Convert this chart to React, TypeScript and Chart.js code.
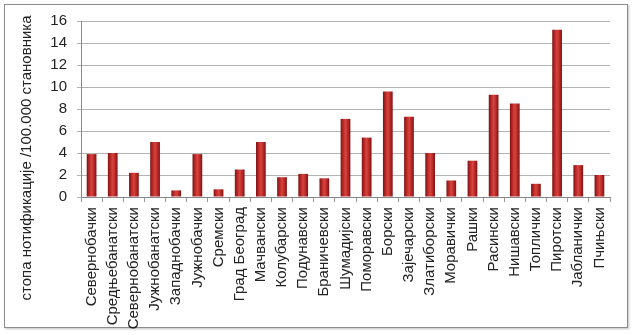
import React, { useEffect, useRef } from "react";
import { Chart, registerables } from "chart.js";

Chart.register(...registerables);

const categories = [
  "Севернобачки", "Средњебанатски", "Севернобанатски", "Јужнобанатски", "Западнобачки",
  "Јужнобачки", "Сремски", "Град Београд", "Мачвански", "Колубарски", "Подунавски",
  "Браничевски", "Шумадијски", "Поморавски", "Борски", "Зајечарски", "Златиборски",
  "Моравички", "Рашки", "Расински", "Нишавски", "Топлички", "Пиротски", "Јабланички", "Пчињски",
];
const rates = [
  3.9, 4.0, 2.2, 5.0, 0.6, 3.9, 0.7, 2.5, 5.0, 1.8, 2.1,
  1.7, 7.1, 5.4, 9.6, 7.3, 4.0, 1.5, 3.3, 9.3, 8.5, 1.2, 15.2, 2.9, 2.0,
];
const yTicks = [0, 2, 4, 6, 8, 10, 12, 14, 16];
const yTitle = "стопа нотификације /100.000 становника";

const FONT = "'Liberation Sans', Arial, sans-serif";

const titlePlugin = {
  id: "sideTitle",
  afterDraw(chart: any) {
    const ctx = chart.ctx;
    ctx.save();
    ctx.translate(27, 158);
    ctx.rotate(-Math.PI / 2);
    ctx.font = `15px ${FONT}`;
    ctx.fillStyle = "#222";
    ctx.textAlign = "center";
    ctx.textBaseline = "middle";
    ctx.fillText(yTitle, 0, 0);
    ctx.restore();
  },
};

export default function App() {
  const ref = useRef<HTMLCanvasElement>(null);
  useEffect(() => {
    if (!ref.current) return;
    const chart = new Chart(ref.current, {
      type: "bar",
      data: {
        labels: categories,
        datasets: [
          {
            data: rates,
            barPercentage: 0.46,
            categoryPercentage: 1,
            borderWidth: 0,
            backgroundColor: (c: any) => {
              const ch = c.chart;
              const xs = ch.scales && ch.scales.x;
              if (!xs || c.dataIndex === undefined) return "#c0302e";
              const cx = xs.getPixelForValue(c.dataIndex);
              if (!isFinite(cx)) return "#c0302e";
              const half = 5;
              const g = ch.ctx.createLinearGradient(cx - half, 0, cx + half, 0);
              g.addColorStop(0, "#7a1010");
              g.addColorStop(0.25, "#b52826");
              g.addColorStop(0.5, "#d8443f");
              g.addColorStop(0.75, "#b52826");
              g.addColorStop(1, "#7a1010");
              return g;
            },
          },
        ],
      },
      options: {
        responsive: false,
        animation: false,
        layout: { padding: { left: 0, right: 22, top: 21, bottom: 0 } },
        plugins: { legend: { display: false }, tooltip: { enabled: false } },
        scales: {
          x: {
            grid: { drawOnChartArea: false, drawTicks: true, tickLength: 5, color: "#999" },
            border: { color: "#888" },
            ticks: {
              autoSkip: false,
              maxRotation: 90,
              minRotation: 90,
              padding: 5,
              color: "#222",
              font: { family: FONT, size: 15 },
            },
            afterFit: (s: any) => {
              s.height = 138;
            },
          },
          y: {
            min: 0,
            max: 16,
            afterBuildTicks: (s: any) => {
              s.ticks = yTicks.map((v) => ({ value: v }));
            },
            grid: { color: "#b3b3b3", tickLength: 4 },
            border: { color: "#888" },
            ticks: {
              padding: 10,
              color: "#222",
              font: { family: FONT, size: 15 },
            },
            afterFit: (s: any) => {
              s.width = 81;
            },
          },
        },
      },
      plugins: [titlePlugin],
    });
    return () => chart.destroy();
  }, []);
  return (
    <div style={{ position: "fixed", left: 0, top: 0, width: 632, height: 335, background: "#fff" }}>
      <div
        style={{
          position: "absolute",
          left: 4,
          top: 4,
          width: 622,
          height: 322,
          border: "1px solid #8c8c8c",
          boxShadow: "1px 1px 2px rgba(0,0,0,0.25)",
        }}
      />
      <canvas ref={ref} width={632} height={335} style={{ position: "absolute", left: 0, top: 0 }} />
    </div>
  );
}
